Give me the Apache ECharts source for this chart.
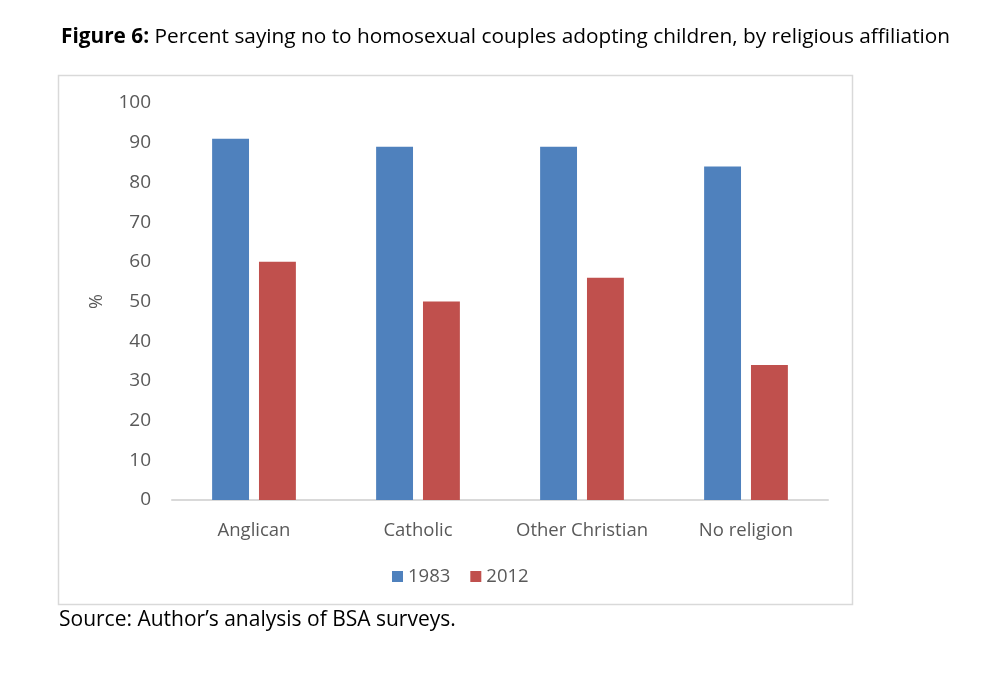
<!DOCTYPE html>
<html>
<head>
<meta charset="utf-8">
<script src="https://cdn.jsdelivr.net/npm/echarts@6/dist/echarts.min.js"></script>
<style>
  html, body { margin: 0; padding: 0; background: #ffffff; }
  #chart { width: 1002px; height: 679px; }
</style>
</head>
<body>
<div id="chart"></div>
<script>
const categories = ['Anglican', 'Catholic', 'Other Christian', 'No religion'];
const years = ['1983', '2012'];
const values1983 = [91, 89, 89, 84];
const values2012 = [60, 50, 56, 34];
const yTicks = { min: 0, max: 100, interval: 10 };

const FONT = '"Open Sans", "Noto Sans", sans-serif';
const chart = echarts.init(document.getElementById('chart'), null, { renderer: 'canvas' });

chart.setOption({
  backgroundColor: '#ffffff',
  animation: false,
  textStyle: { fontFamily: FONT },
  grid: { left: 172, right: 174, top: 103, bottom: 179, containLabel: false },
  legend: {
    data: years,
    top: 562,
    left: 387,
    itemWidth: 11,
    itemHeight: 11,
    itemGap: 20,
    icon: 'rect',
    textStyle: { fontFamily: FONT, fontSize: 18.5, color: '#595959', padding: [0, 0, 0, 0] }
  },
  xAxis: {
    type: 'category',
    data: categories,
    axisLine: { lineStyle: { color: '#d9d9d9', width: 2 } },
    axisTick: { show: false },
    axisLabel: { interval: 0, fontFamily: FONT, fontSize: 18.5, color: '#595959', margin: 21 }
  },
  yAxis: {
    type: 'value',
    min: yTicks.min,
    max: yTicks.max,
    interval: yTicks.interval,
    name: '%',
    nameLocation: 'middle',
    nameRotate: 90,
    nameGap: 66,
    nameTextStyle: { fontFamily: FONT, fontSize: 18, color: '#595959' },
    axisLine: { show: false },
    axisTick: { show: false },
    splitLine: { show: false },
    axisLabel: { fontFamily: FONT, fontSize: 19, color: '#595959', margin: 21 }
  },
  series: [
    {
      name: years[0], type: 'bar', data: values1983,
      barWidth: '22.5%', barGap: '27%',
      itemStyle: { color: '#4F81BD' }
    },
    {
      name: years[1], type: 'bar', data: values2012,
      barWidth: '22.5%', barGap: '27%',
      itemStyle: { color: '#C0504D' }
    }
  ],
  graphic: [
    {
      type: 'rect',
      shape: { x: 58.5, y: 75.5, width: 794, height: 529 },
      style: { fill: 'none', stroke: '#d9d9d9', lineWidth: 1.5 },
      silent: true, z: -1
    },
    {
      type: 'text',
      left: 61, top: 27,
      style: {
        text: '{b|Figure 6:} Percent saying no to homosexual couples adopting children, by religious affiliation',
        font: '20.8px ' + FONT,
        fill: '#000000',
        rich: {
          b: { fontFamily: FONT, fontSize: 20.8, fontWeight: 'bold', fill: '#000000' }
        }
      }
    },
    {
      type: 'text',
      left: 59, top: 610,
      style: {
        text: 'Source: Author\u2019s analysis of BSA surveys.',
        font: '21px ' + FONT,
        fill: '#000000'
      }
    }
  ]
});
</script>
</body>
</html>
